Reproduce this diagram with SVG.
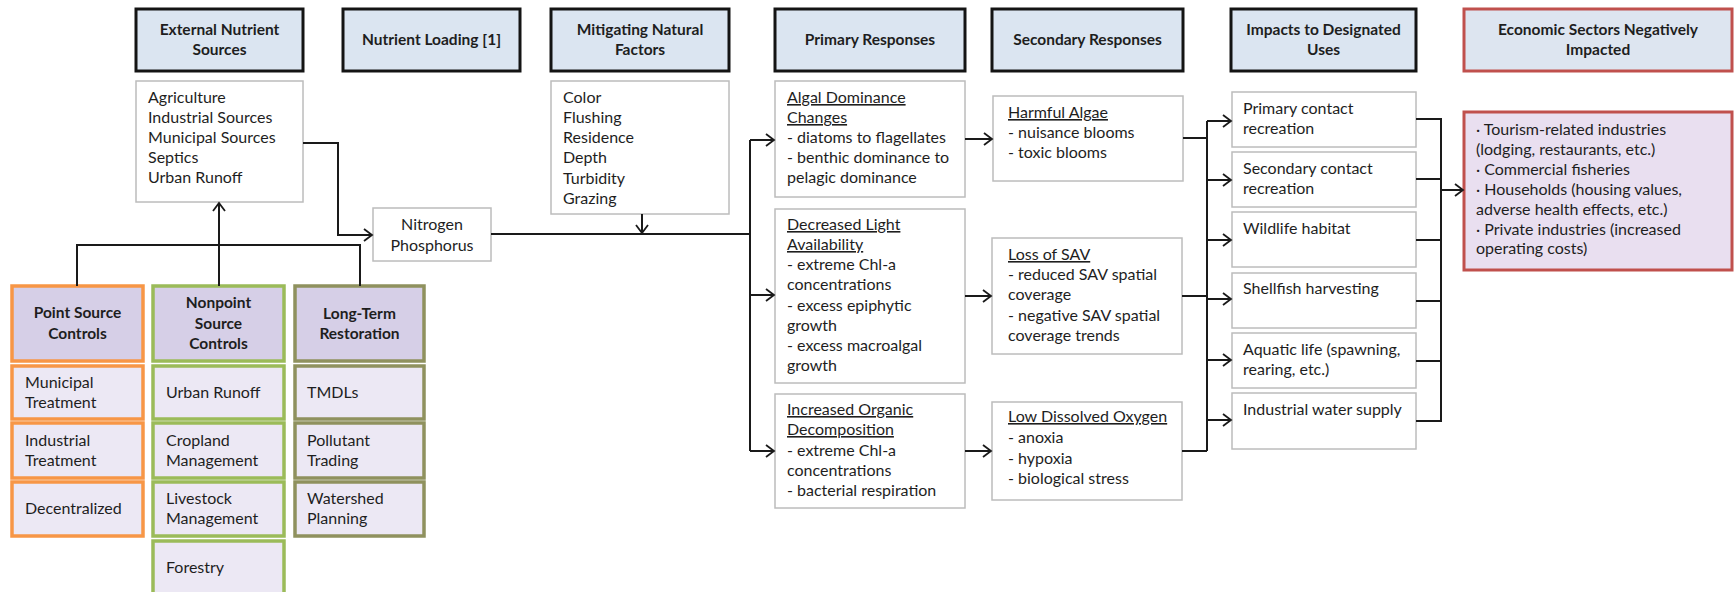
<svg xmlns="http://www.w3.org/2000/svg" width="1734" height="592" viewBox="0 0 1734 592">
<defs>
<style>
.hdr{fill:#dbe5f1;stroke:#141414;stroke-width:3}
.hdrR{fill:#dde5f0;stroke:#c0504d;stroke-width:3}
.ht{font-family:Lato,"Liberation Sans",sans-serif;font-weight:bold;font-size:15.5px;fill:#1e1e1e;text-anchor:middle}
.box{fill:#ffffff;stroke:#bcbcbc;stroke-width:1.5}
.t{font-family:Lato,"Liberation Sans",sans-serif;font-size:16px;fill:#1e1e1e}
.c{text-anchor:middle}
.u{text-decoration:underline}
.econ{fill:#e9dff0;stroke:#c0504d;stroke-width:3}
.ch{fill:#d6cfe7;stroke-width:3.5}
.cb{fill:#ece8f4;stroke-width:3.5}
.or{stroke:#f79646}
.gr{stroke:#9bbb59}
.ol{stroke:#8f915e}
.ln{fill:none;stroke:#1a1a1a;stroke-width:2}
</style>
<marker id="arr" markerUnits="userSpaceOnUse" markerWidth="14" markerHeight="14" refX="10" refY="7" orient="auto">
<path d="M2,1 L10,7 L2,13" fill="none" stroke="#1a1a1a" stroke-width="1.8"/>
</marker>
</defs>
<rect width="1734" height="592" fill="#ffffff"/>

<g id="hdr-external"><rect class="hdr" x="136" y="9" width="167" height="62"/><text class="ht" x="219.5" y="35">External Nutrient</text><text class="ht" x="219.5" y="55">Sources</text></g>
<g id="hdr-loading"><rect class="hdr" x="343" y="9" width="177" height="62"/><text class="ht" x="431.5" y="45">Nutrient Loading [1]</text></g>
<g id="hdr-mitigating"><rect class="hdr" x="551" y="9" width="178" height="62"/><text class="ht" x="640" y="35">Mitigating Natural</text><text class="ht" x="640" y="55">Factors</text></g>
<g id="hdr-primary"><rect class="hdr" x="775" y="9" width="190" height="62"/><text class="ht" x="870" y="45">Primary Responses</text></g>
<g id="hdr-secondary"><rect class="hdr" x="992" y="9" width="191" height="62"/><text class="ht" x="1087.5" y="45">Secondary Responses</text></g>
<g id="hdr-impacts"><rect class="hdr" x="1231" y="9" width="185" height="62"/><text class="ht" x="1323.5" y="35">Impacts to Designated</text><text class="ht" x="1323.5" y="55">Uses</text></g>
<g id="hdr-economic"><rect class="hdrR" x="1464" y="9" width="268" height="62"/><text class="ht" x="1598" y="35">Economic Sectors Negatively</text><text class="ht" x="1598" y="55">Impacted</text></g>

<g id="sources"><rect class="box" x="136" y="81" width="167" height="121"/>
<text class="t" x="148" y="103">Agriculture</text><text class="t" x="148" y="123">Industrial Sources</text><text class="t" x="148" y="143">Municipal Sources</text><text class="t" x="148" y="163">Septics</text><text class="t" x="148" y="183">Urban Runoff</text></g>

<g id="nitrogen"><rect class="box" x="373" y="208" width="118" height="53"/>
<text class="t c" x="432" y="230">Nitrogen</text><text class="t c" x="432" y="251">Phosphorus</text></g>

<g id="mitigating"><rect class="box" x="551" y="81" width="178" height="133"/>
<text class="t" x="563" y="103">Color</text><text class="t" x="563" y="123">Flushing</text><text class="t" x="563" y="143">Residence</text><text class="t" x="563" y="163">Depth</text><text class="t" x="563" y="184">Turbidity</text><text class="t" x="563" y="204">Grazing</text></g>

<g id="algal"><rect class="box" x="775" y="81" width="190" height="116"/>
<text class="t u" x="787" y="103">Algal Dominance</text><text class="t u" x="787" y="123">Changes</text><text class="t" x="787" y="143">- diatoms to flagellates</text><text class="t" x="787" y="163">- benthic dominance to</text><text class="t" x="787" y="183">pelagic dominance</text></g>

<g id="light"><rect class="box" x="775" y="209" width="190" height="174"/>
<text class="t u" x="787" y="230">Decreased Light</text><text class="t u" x="787" y="250">Availability</text><text class="t" x="787" y="270">- extreme Chl-a</text><text class="t" x="787" y="290">concentrations</text><text class="t" x="787" y="311">- excess epiphytic</text><text class="t" x="787" y="331">growth</text><text class="t" x="787" y="351">- excess macroalgal</text><text class="t" x="787" y="371">growth</text></g>

<g id="organic"><rect class="box" x="775" y="394" width="190" height="114"/>
<text class="t u" x="787" y="415">Increased Organic</text><text class="t u" x="787" y="435">Decomposition</text><text class="t" x="787" y="456">- extreme Chl-a</text><text class="t" x="787" y="476">concentrations</text><text class="t" x="787" y="496">- bacterial respiration</text></g>

<g id="harmful"><rect class="box" x="993" y="96" width="190" height="85"/>
<text class="t u" x="1008" y="118">Harmful Algae</text><text class="t" x="1008" y="138">- nuisance blooms</text><text class="t" x="1008" y="158">- toxic blooms</text></g>

<g id="sav"><rect class="box" x="992" y="238" width="190" height="116"/>
<text class="t u" x="1008" y="260">Loss of SAV</text><text class="t" x="1008" y="280">- reduced SAV spatial</text><text class="t" x="1008" y="300">coverage</text><text class="t" x="1008" y="321">- negative SAV spatial</text><text class="t" x="1008" y="341">coverage trends</text></g>

<g id="lowdo"><rect class="box" x="992" y="402" width="190" height="98"/>
<text class="t u" x="1008" y="422">Low Dissolved Oxygen</text><text class="t" x="1008" y="443">- anoxia</text><text class="t" x="1008" y="464">- hypoxia</text><text class="t" x="1008" y="484">- biological stress</text></g>

<g id="use-primary"><rect class="box" x="1232" y="92" width="184" height="55"/><text class="t" x="1243" y="114">Primary contact</text><text class="t" x="1243" y="134">recreation</text></g>
<g id="use-secondary"><rect class="box" x="1232" y="152" width="184" height="55"/><text class="t" x="1243" y="174">Secondary contact</text><text class="t" x="1243" y="194">recreation</text></g>
<g id="use-wildlife"><rect class="box" x="1232" y="212" width="184" height="55"/><text class="t" x="1243" y="234">Wildlife habitat</text></g>
<g id="use-shellfish"><rect class="box" x="1232" y="273" width="184" height="55"/><text class="t" x="1243" y="294">Shellfish harvesting</text></g>
<g id="use-aquatic"><rect class="box" x="1232" y="333" width="184" height="55"/><text class="t" x="1243" y="355">Aquatic life (spawning,</text><text class="t" x="1243" y="375">rearing, etc.)</text></g>
<g id="use-industrial"><rect class="box" x="1232" y="393" width="184" height="56"/><text class="t" x="1243" y="415">Industrial water supply</text></g>

<g id="economic"><rect class="econ" x="1464" y="112" width="268" height="158"/>
<text class="t" x="1476" y="135">· Tourism-related industries</text><text class="t" x="1476" y="155">(lodging, restaurants, etc.)</text><text class="t" x="1476" y="175">· Commercial fisheries</text><text class="t" x="1476" y="195">· Households (housing values,</text><text class="t" x="1476" y="215">adverse health effects, etc.)</text><text class="t" x="1476" y="235">· Private industries (increased</text><text class="t" x="1476" y="254">operating costs)</text></g>

<g id="point-source"><rect class="ch or" x="12" y="286" width="131" height="75"/><text class="ht" x="77.5" y="318">Point Source</text><text class="ht" x="77.5" y="339">Controls</text>
<rect class="cb or" x="12" y="366" width="131" height="53"/><text class="t" x="25" y="388">Municipal</text><text class="t" x="25" y="408">Treatment</text>
<rect class="cb or" x="12" y="423" width="131" height="55"/><text class="t" x="25" y="446">Industrial</text><text class="t" x="25" y="466">Treatment</text>
<rect class="cb or" x="12" y="482" width="131" height="54"/><text class="t" x="25" y="514">Decentralized</text></g>

<g id="nonpoint"><rect class="ch gr" x="153" y="286" width="131" height="75"/><text class="ht" x="218.5" y="308">Nonpoint</text><text class="ht" x="218.5" y="329">Source</text><text class="ht" x="218.5" y="349">Controls</text>
<rect class="cb gr" x="153" y="366" width="131" height="53"/><text class="t" x="166" y="398">Urban Runoff</text>
<rect class="cb gr" x="153" y="423" width="131" height="55"/><text class="t" x="166" y="446">Cropland</text><text class="t" x="166" y="466">Management</text>
<rect class="cb gr" x="153" y="482" width="131" height="54"/><text class="t" x="166" y="504">Livestock</text><text class="t" x="166" y="524">Management</text>
<rect class="cb gr" x="153" y="541" width="131" height="56"/><text class="t" x="166" y="573">Forestry</text></g>

<g id="long-term"><rect class="ch ol" x="295" y="286" width="129" height="75"/><text class="ht" x="359.5" y="319">Long-Term</text><text class="ht" x="359.5" y="339">Restoration</text>
<rect class="cb ol" x="295" y="366" width="129" height="53"/><text class="t" x="307" y="398">TMDLs</text>
<rect class="cb ol" x="295" y="423" width="129" height="55"/><text class="t" x="307" y="446">Pollutant</text><text class="t" x="307" y="466">Trading</text>
<rect class="cb ol" x="295" y="482" width="129" height="54"/><text class="t" x="307" y="504">Watershed</text><text class="t" x="307" y="524">Planning</text></g>

<g id="connectors">
<path class="ln" d="M303,143 H338 V235 H372" marker-end="url(#arr)"/>
<path class="ln" d="M77,286 V245 H360 V286"/>
<path class="ln" d="M219,286 V203" marker-end="url(#arr)"/>
<path class="ln" d="M491,234 H750"/>
<path class="ln" d="M642,214 V233" marker-end="url(#arr)"/>
<path class="ln" d="M750,140 V451"/>
<path class="ln" d="M750,140 H774" marker-end="url(#arr)"/>
<path class="ln" d="M750,295 H774" marker-end="url(#arr)"/>
<path class="ln" d="M750,451 H774" marker-end="url(#arr)"/>
<path class="ln" d="M965,139 H992" marker-end="url(#arr)"/>
<path class="ln" d="M965,296 H991" marker-end="url(#arr)"/>
<path class="ln" d="M965,451 H991" marker-end="url(#arr)"/>
<path class="ln" d="M1183,138 H1207"/>
<path class="ln" d="M1182,296 H1207"/>
<path class="ln" d="M1182,451 H1207"/>
<path class="ln" d="M1207,121 V451"/>
<path class="ln" d="M1207,121 H1231" marker-end="url(#arr)"/>
<path class="ln" d="M1207,180 H1231" marker-end="url(#arr)"/>
<path class="ln" d="M1207,240 H1231" marker-end="url(#arr)"/>
<path class="ln" d="M1207,299 H1231" marker-end="url(#arr)"/>
<path class="ln" d="M1207,360 H1231" marker-end="url(#arr)"/>
<path class="ln" d="M1207,420 H1231" marker-end="url(#arr)"/>
<path class="ln" d="M1416,119 H1441 V421 H1416"/>
<path class="ln" d="M1416,179 H1441"/>
<path class="ln" d="M1416,240 H1441"/>
<path class="ln" d="M1416,301 H1441"/>
<path class="ln" d="M1416,361 H1441"/>
<path class="ln" d="M1441,190 H1463" marker-end="url(#arr)"/>
</g>
</svg>
